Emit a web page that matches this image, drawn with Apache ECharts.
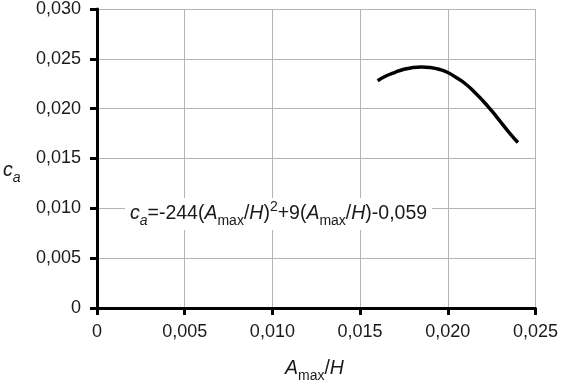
<!DOCTYPE html>
<html>
<head>
<meta charset="utf-8">
<script src="https://cdn.jsdelivr.net/npm/echarts@6/dist/echarts.min.js"></script>
<style>html,body{margin:0;padding:0;background:#fff}#c{width:561px;height:382px}</style>
</head>
<body>
<div id="c"></div>
<script>
var xValues = [0.016, 0.0165, 0.017, 0.0175, 0.018, 0.0185, 0.019, 0.0195, 0.020, 0.0205, 0.021, 0.0215, 0.022, 0.0225, 0.023, 0.0235, 0.024];
var caValues = [0.0228, 0.0233, 0.02365, 0.02395, 0.02412, 0.02418, 0.02412, 0.02395, 0.02363, 0.0231, 0.0225, 0.0217, 0.0208, 0.0198, 0.0187, 0.0176, 0.0166];
var xTicks = [0, 0.005, 0.010, 0.015, 0.020, 0.025];
var yTicks = [0, 0.005, 0.010, 0.015, 0.020, 0.025, 0.030];

function fmt(v) {
  if (Math.abs(v) < 1e-9) return '0';
  return v.toFixed(3).replace('.', ',');
}
var FAM = 'Arial, "Liberation Sans", sans-serif';
var chart = echarts.init(document.getElementById('c'), null, {renderer: 'canvas'});
var axisCommon = {
  axisLine: {show: true, onZero: false, lineStyle: {color: '#000', width: 3}},
  axisTick: {show: true, inside: false, length: 7, lineStyle: {color: '#000', width: 3}},
  splitLine: {show: true, lineStyle: {color: '#b4b4b4', width: 1}},
  axisLabel: {color: '#1a1a1a', fontSize: 18, fontFamily: FAM, formatter: fmt}
};
var C = '#1a1a1a';
function mk(size, italic, extra) {
  var o = {font: (italic ? 'italic ' : '') + size + 'px ' + FAM, fontSize: size, fontFamily: FAM,
    fontStyle: italic ? 'italic' : 'normal', fill: C, color: C};
  for (var k in extra) o[k] = extra[k];
  return o;
}
var rich = {
  n: mk(19.5, false, {lineHeight: 28}),
  i: mk(19.5, true, {lineHeight: 28}),
  sub: mk(14, true, {lineHeight: 15, verticalAlign: 'bottom'}),
  subn: mk(14, false, {lineHeight: 18, verticalAlign: 'bottom'}),
  sup: mk(14, false, {lineHeight: 15, verticalAlign: 'top'})
};
function txt(x, y, s, bg) {
  var st = mk(19.5, false, {text: s, rich: rich, verticalAlign: 'middle', align: 'left'});
  if (bg) { st.backgroundColor = '#fff'; st.padding = [2, 5, 2, 5]; }
  return {type: 'text', x: x, y: y, z: 100, style: st};
}
chart.setOption({
  animation: false,
  grid: {left: 97, right: 25, top: 7, bottom: 74, containLabel: false},
  xAxis: Object.assign({}, axisCommon, {
    type: 'value', min: 0, max: 0.025, interval: 0.005,
    axisLabel: Object.assign({}, axisCommon.axisLabel, {margin: 15})
  }),
  yAxis: Object.assign({}, axisCommon, {
    type: 'value', min: 0, max: 0.030, interval: 0.005,
    axisLabel: Object.assign({}, axisCommon.axisLabel, {margin: 16})
  }),
  series: [{
    type: 'line',
    data: xValues.map(function (x, k) { return [x, caValues[k]]; }),
    smooth: true,
    showSymbol: false,
    lineStyle: {color: '#000', width: 3.5}
  }],
  graphic: [
    txt(125, 214, '{i|c}{sub|a}{n|=-244(}{i|A}{subn|max}{n|/}{i|H}{n|)}{sup|2}{n|+9(}{i|A}{subn|max}{n|/}{i|H}{n|)-0,059}', true),
    txt(3, 171, '{i|c}{sub|a}'),
    txt(285, 369, '{i|A}{subn|max}{n|/}{i|H}')
  ]
});
</script>
</body>
</html>
